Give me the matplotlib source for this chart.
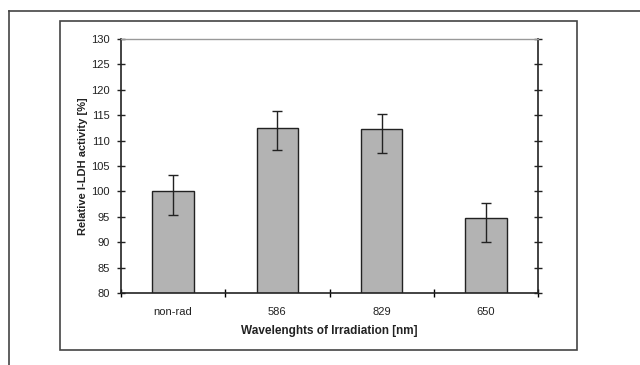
import numpy as np
import matplotlib
matplotlib.use("Agg")
from matplotlib import pyplot as plt
from matplotlib.lines import Line2D
from matplotlib.patches import Rectangle

plt.rcParams['font.family'] = ['Liberation Sans', 'DejaVu Sans']

"""Data read off the picture"""
categories = ['non-rad', '586', '829', '650']
activity = [100.0, 112.5, 112.2, 94.7]
err_low = [4.6, 4.4, 4.7, 4.7]
err_high = [3.3, 3.4, 3.1, 3.1]
yticks = [80, 85, 90, 95, 100, 105, 110, 115, 120, 125, 130]

W, H = 640, 365
fig = plt.figure(figsize=(W / 100, H / 100), dpi=100)

"""Page and chart frames"""
fig.add_artist(Line2D([8.5 / W, 8.5 / W], [0, 1 - 11 / H], color='#444444', lw=1.2))
fig.add_artist(Line2D([8.5 / W, 1], [1 - 11 / H, 1 - 11 / H], color='#444444', lw=1.2))
fig.add_artist(Rectangle((60 / W, 1 - 350 / H), (577 - 60) / W, (350 - 21) / H,
                         transform=fig.transFigure, fill=False, ec='#444444', lw=1.2))

ax = fig.add_axes([121 / W, 1 - 293 / H, (538 - 121) / W, (293 - 39) / H])

x = np.arange(len(categories))
ax.bar(x, activity, width=0.4, color='#b3b3b3', edgecolor='#222222', linewidth=1.0, zorder=2)
ax.errorbar(x, activity, yerr=[err_low, err_high], fmt='none', ecolor='#222222',
            elinewidth=1.0, capsize=3.5, capthick=1.0, zorder=3)

ax.set_xlim(-0.5, 3.5)
ax.set_ylim(80, 130)

ax.set_yticks(yticks)
ax.tick_params(axis='y', which='major', direction='inout', length=6, width=1.0,
               labelsize=8, colors='#222222', right=True, pad=5)
ax.set_xticks([-0.5, 0.5, 1.5, 2.5, 3.5])
ax.set_xticklabels([])
ax.set_xticks(x, minor=True)
ax.set_xticklabels(categories, minor=True)
ax.tick_params(axis='x', which='major', direction='inout', length=6, width=1.0)
ax.tick_params(axis='x', which='minor', length=0, labelsize=8, colors='#222222', pad=10)

for side in ['left', 'right', 'bottom']:
    ax.spines[side].set_color('#222222')
    ax.spines[side].set_linewidth(1.2)
ax.spines['top'].set_color('#999999')
ax.spines['top'].set_linewidth(1.0)

ax.set_xlabel('Wavelenghts of Irradiation [nm]', fontsize=8.5, fontweight='bold', color='#222222', labelpad=6)
ax.set_ylabel('Relative l-LDH activity [%]', fontsize=8, fontweight='bold', color='#222222', labelpad=2)

fig.savefig('out.png', dpi=100)
